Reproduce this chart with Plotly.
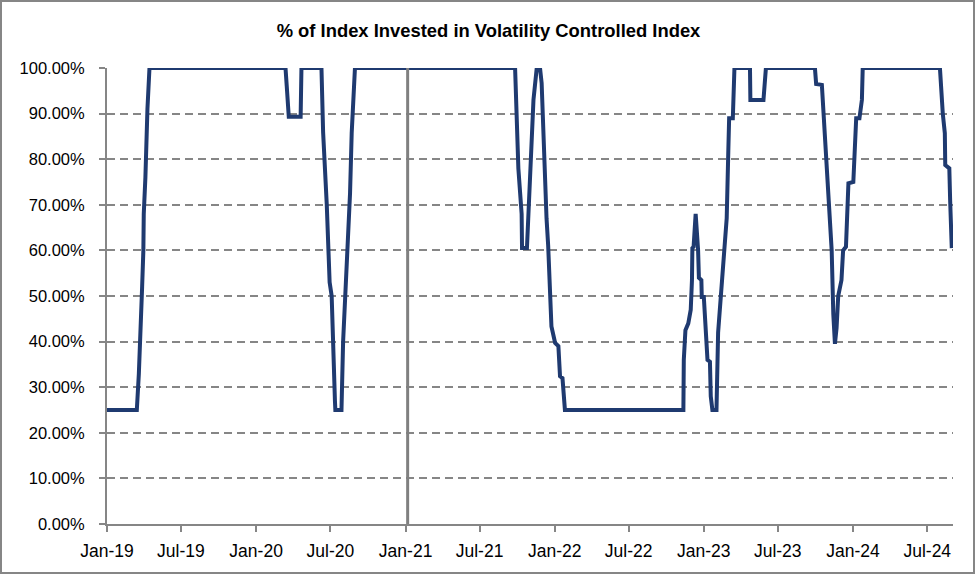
import plotly.graph_objects as go

dates = [
    "2019-01-01", "2019-03-15", "2019-03-20", "2019-03-25", "2019-03-28", "2019-03-31",
    "2019-04-01", "2019-04-05", "2019-04-07", "2019-04-10", "2019-04-15",
    "2020-03-13", "2020-03-16", "2020-03-21", "2020-04-19", "2020-04-21",
    "2020-06-09", "2020-06-13", "2020-06-22", "2020-06-28", "2020-06-29", "2020-07-04",
    "2020-07-07", "2020-07-12", "2020-07-13", "2020-07-28", "2020-08-01", "2020-08-08",
    "2020-08-11", "2020-08-18", "2020-08-22", "2020-08-30",
    "2021-09-26", "2021-09-30", "2021-10-04", "2021-10-12", "2021-10-13", "2021-10-25",
    "2021-11-02", "2021-11-10", "2021-11-18", "2021-11-26", "2021-11-30", "2021-12-08",
    "2021-12-12", "2021-12-16", "2021-12-20", "2021-12-24", "2022-01-02", "2022-01-10",
    "2022-01-14", "2022-01-20", "2022-01-26",
    "2022-11-12", "2022-11-13", "2022-11-17", "2022-11-24", "2022-11-30", "2022-12-03",
    "2022-12-04", "2022-12-07", "2022-12-12", "2022-12-18", "2022-12-20", "2022-12-26",
    "2022-12-27", "2023-01-01", "2023-01-10", "2023-01-16", "2023-01-18", "2023-01-22",
    "2023-02-01", "2023-02-05", "2023-02-11", "2023-02-15", "2023-02-19", "2023-02-26",
    "2023-03-02", "2023-03-04", "2023-03-13", "2023-03-17", "2023-04-24", "2023-04-25",
    "2023-05-27", "2023-06-02",
    "2023-09-30", "2023-10-03", "2023-10-17", "2023-10-25", "2023-10-29", "2023-11-02",
    "2023-11-05", "2023-11-06", "2023-11-10", "2023-11-14", "2023-11-18", "2023-11-22",
    "2023-11-26", "2023-12-04", "2023-12-08", "2023-12-15", "2023-12-21", "2024-01-02",
    "2024-01-09", "2024-01-17", "2024-01-23", "2024-01-25",
    "2024-08-01", "2024-08-08", "2024-08-13", "2024-08-14", "2024-08-24", "2024-08-26",
    "2024-08-30",
]
pct_invested = [
    25, 25, 33, 43, 52, 60,
    68, 76, 86, 91, 100,
    100, 96, 89.3, 89.3, 100,
    100, 86, 70, 56, 53, 50,
    38, 27, 25, 25, 40, 53,
    60, 72.6, 85.7, 100,
    100, 89, 78, 68, 60.5, 60.5,
    78, 93, 100, 100, 96.7, 75,
    67, 61, 52, 43.3, 39.7, 39,
    32.4, 32, 25,
    25, 36, 42.5, 44, 47, 53.5,
    60.5, 60.8, 68, 60, 54, 53.5,
    49.8, 49.8, 36, 35.6, 28, 25,
    25, 42, 50, 54, 60, 67,
    82, 89, 89, 100, 100, 93,
    93, 100,
    100, 96.5, 96.3, 84, 76, 70,
    68, 64.5, 60, 46, 39.5, 43,
    50, 53.5, 60, 60.8, 74.7, 75,
    89, 89, 93, 100,
    100, 90, 85.7, 78.7, 78, 71,
    60.5,
]
marker_date = "2021-01-06"
y_ticks = [0, 10, 20, 30, 40, 50, 60, 70, 80, 90, 100]
y_tick_labels = [f"{v:.2f}%" for v in y_ticks]
title_text = "% of Index Invested in Volatility Controlled Index"

FONT = "Liberation Sans, Arial, sans-serif"
GRAY = "#868686"

fig = go.Figure()
fig.add_trace(go.Scatter(
    x=dates, y=pct_invested, mode="lines",
    line=dict(color="#1f3a70", width=4),
    showlegend=False, hoverinfo="skip",
))

W, H = 977, 577
ml, mr, mt, mb = 107, 24, 68, 53
pw, ph = W - ml - mr, H - mt - mb

fig.add_shape(type="line", xref="x", yref="y", x0=marker_date, x1=marker_date,
              y0=0, y1=100, line=dict(color="#808080", width=3), layer="above")

# outer chart border (pixel positions converted to paper coordinates)
bx0, bx1, by0, by1 = 1, 974, 1, 573
fig.add_shape(type="rect", xref="paper", yref="paper",
              x0=(bx0 - ml) / pw, x1=(bx1 - ml) / pw,
              y0=(H - mb - by1) / ph, y1=(H - mb - by0) / ph,
              line=dict(color=GRAY, width=2), fillcolor="rgba(0,0,0,0)")

fig.update_layout(
    width=W, height=H,
    margin=dict(l=ml, r=mr, t=mt, b=mb),
    paper_bgcolor="white", plot_bgcolor="white",
    title=dict(text=title_text, x=(W / 2 - ml) / pw, xref="paper", xanchor="center",
               y=1 - 31 / H, yanchor="middle", yref="container",
               font=dict(family=FONT, size=18.4, color="black", weight="bold")),
    font=dict(family=FONT, size=17.5, color="black"),
)

fig.update_xaxes(
    type="date", range=["2019-01-01", "2024-09-02"],
    tick0="2019-01-01", dtick="M6", tickformat="%b-%y",
    ticks="outside", ticklen=6, tickwidth=2, tickcolor=GRAY,
    showline=True, linecolor=GRAY, linewidth=2,
    showgrid=False, zeroline=False, ticklabelstandoff=4,
    tickfont=dict(family=FONT, size=17.5, color="black"),
)
fig.update_yaxes(
    range=[0, 100], tickvals=y_ticks, ticktext=y_tick_labels,
    ticks="outside", ticklen=6, tickwidth=2, tickcolor=GRAY,
    showline=True, linecolor=GRAY, linewidth=2,
    showgrid=True, gridcolor=GRAY, gridwidth=2, griddash="8px,5px",
    zeroline=False, ticklabelstandoff=11,
    tickfont=dict(family=FONT, size=16.5, color="black"),
)

fig.write_html("out.html", config={"displayModeBar": False},
               post_script="document.body.style.margin='0';document.body.style.overflow='hidden';")
